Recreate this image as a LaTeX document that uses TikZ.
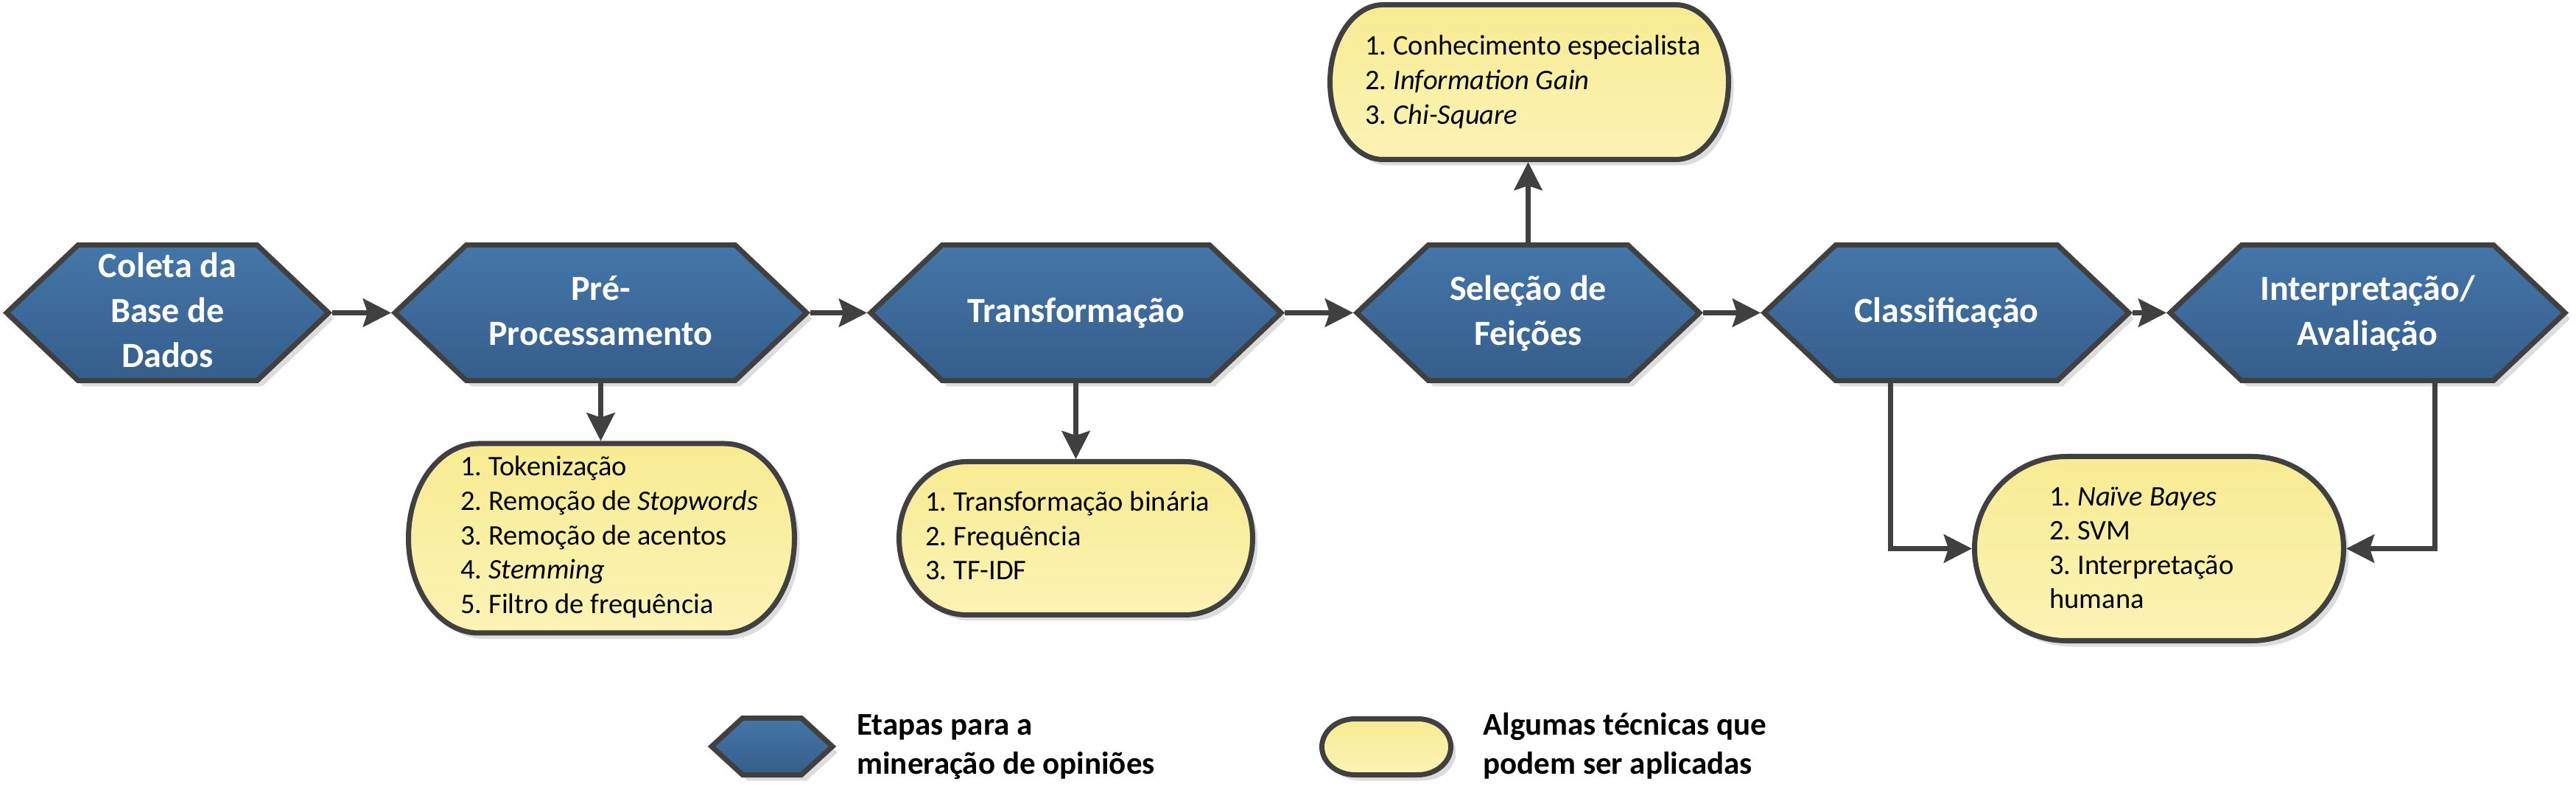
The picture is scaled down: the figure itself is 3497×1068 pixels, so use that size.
\documentclass[tikz,border=0pt]{standalone}
\usepackage{fontspec}
\setmainfont{Carlito}
\usetikzlibrary{arrows.meta}
\definecolor{hexTop}{HTML}{4476A9}
\definecolor{hexBot}{HTML}{355E8B}
\definecolor{edgec}{HTML}{404040}
\definecolor{yelTop}{HTML}{F8EB92}
\definecolor{yelBot}{HTML}{FBF3B5}
\definecolor{shadowc}{HTML}{DCDCDC}
\tikzset{
  hexshape/.style={draw=edgec, line width=3.5pt, top color=hexTop, bottom color=hexBot, line join=miter},
  techshape/.style={draw=edgec, line width=3.5pt, top color=yelTop, bottom color=yelBot},
  shadowshape/.style={fill=shadowc, draw=none},
  hextext/.style={text=white, font=\frenchspacing\bfseries\fontsize{24}{30.5}\selectfont, align=center, inner sep=0pt},
  techtext/.style={text=black, font=\frenchspacing\fontsize{19.25}{23.3}\selectfont, align=left, anchor=west, inner sep=0pt},
  legtext/.style={text=black, font=\frenchspacing\bfseries\fontsize{21.5}{26.5}\selectfont, align=left, anchor=west, inner sep=0pt},
  conn/.style={draw=edgec, line width=3.5pt, -{Stealth[length=19pt, width=19pt, inset=3pt]}},
}
% hexagon: #1 name, #2 left vertex x, #3 right vertex x, #4 top y, #5 bottom y, #6 slant
\newcommand\hexstep[6]{%
  \pgfmathsetmacro\hexmidy{(#4+#5)/2}%
  \pgfmathsetmacro\hexmidx{(#2+#3)/2}%
  \fill[shadowshape, shift={(7,8)}] (#2,\hexmidy) -- (#2+#6,#4) -- (#3-#6,#4) -- (#3,\hexmidy) -- (#3-#6,#5) -- (#2+#6,#5) -- cycle;
  \path[hexshape] (#2,\hexmidy) -- (#2+#6,#4) -- (#3-#6,#4) -- (#3,\hexmidy) -- (#3-#6,#5) -- (#2+#6,#5) -- cycle;
  \coordinate (#1-w) at (#2-5,\hexmidy);
  \coordinate (#1-e) at (#3+5,\hexmidy);
  \coordinate (#1-n) at (\hexmidx,#4-1.75);
  \coordinate (#1-s) at (\hexmidx,#5+1.75);
}
% stadium: #1 name, #2 x1, #3 y1, #4 x2, #5 y2, #6 rx
\def\stadpath{(\stadxl,\stadya) -- (\stadxr,\stadya) .. controls (\stadxr+\stadkx,\stadya) and (\stadxb,\stadmy-\stadky) .. (\stadxb,\stadmy) .. controls (\stadxb,\stadmy+\stadky) and (\stadxr+\stadkx,\stadyb) .. (\stadxr,\stadyb) -- (\stadxl,\stadyb) .. controls (\stadxl-\stadkx,\stadyb) and (\stadxa,\stadmy+\stadky) .. (\stadxa,\stadmy) .. controls (\stadxa,\stadmy-\stadky) and (\stadxl-\stadkx,\stadya) .. (\stadxl,\stadya) -- cycle}
\newcommand\stadium[6]{%
  \pgfmathsetmacro\stadxa{#2}%
  \pgfmathsetmacro\stadxb{#4}%
  \pgfmathsetmacro\stadya{#3}%
  \pgfmathsetmacro\stadyb{#5}%
  \pgfmathsetmacro\stadxl{#2+#6}%
  \pgfmathsetmacro\stadxr{#4-#6}%
  \pgfmathsetmacro\stadmy{(#3+#5)/2}%
  \pgfmathsetmacro\stadmx{(#2+#4)/2}%
  \pgfmathsetmacro\stadkx{0.5523*#6}%
  \pgfmathsetmacro\stadky{0.5523*(#5-#3)/2}%
  \fill[shadowshape, shift={(7,8)}] \stadpath;
  \path[techshape] \stadpath;
  \coordinate (#1-n) at (\stadmx,#3-3.5);
  \coordinate (#1-s) at (\stadmx,#5+3.5);
  \coordinate (#1-w) at (#2-3.5,\stadmy);
  \coordinate (#1-e) at (#4+3.5,\stadmy);
}
\begin{document}
\begin{tikzpicture}[x=0.5pt, y=-0.5pt]
\useasboundingbox (0,0) rectangle (3497,1068);

% process steps
\hexstep{h1}{9}{446}{332.5}{516.5}{97}
\hexstep{h2}{536}{1095}{332.5}{516.5}{97}
\hexstep{h3}{1182}{1739}{332.5}{516.5}{97}
\hexstep{h4}{1842}{2307}{332.5}{516.5}{97}
\hexstep{h5}{2395}{2890}{332.5}{516.5}{97}
\hexstep{h6}{2946}{3482}{332.5}{516.5}{97}

\node[hextext] (t1) at (227.5,425.5) {\strut Coleta da\\Base de\\Dados\strut};
\node[hextext] (t2) at (815.5,425.5) {\strut Pré-\\Processamento\strut};
\node[hextext] (t3) at (1460.5,425.5) {\strut Transformação\strut};
\node[hextext] (t4) at (2074.5,425.5) {\strut Seleção de\\Feições\strut};
\node[hextext] (t5) at (2642.5,425.5) {\strut Classificação\strut};
\node[hextext] (t6) at (3214,425.5) {\strut Interpretação/\\Avaliação\strut};

% technique boxes
\stadium{fs}{1805.5}{6.5}{2346.5}{216.5}{72}
\stadium{pp}{554.5}{602}{1078.5}{859}{95}
\stadium{tr}{1220.5}{626.5}{1700.5}{834.5}{92}
\stadium{cl}{2680.5}{619.5}{3181.5}{869.5}{125}

\node[techtext] (fs-t) at (1853,112.2) {\strut 1. Conhecimento especialista\\2. \textit{Information Gain}\\3. \textit{Chi-Square}\strut};
\node[techtext] (pp-t) at (625,729.7) {\strut 1. Tokenização\\2. Remoção de \textit{Stopwords}\\3. Remoção de acentos\\4. \textit{Stemming}\\5. Filtro de frequência\strut};
\node[techtext] (tr-t) at (1256,730.7) {\strut 1. Transformação binária\\2. Frequência\\3. TF-IDF\strut};
\node[techtext] (cl-t) at (2782,746.7) {\strut 1. \textit{Naïve Bayes}\\2. SVM\\3. Interpretação\\humana\strut};

% connectors
\draw[conn] (h1-e) -- (h2-w);
\draw[conn] (h2-e) -- (h3-w);
\draw[conn] (h3-e) -- (h4-w);
\draw[conn] (h4-e) -- (h5-w);
\draw[conn] (h5-e) -- (h6-w);
\draw[conn] (h2-s) -- (h2-s |- pp-n);
\draw[conn] (h3-s) -- (h3-s |- tr-n);
\draw[conn] (h4-n) -- (h4-n |- fs-s);
\coordinate (h5-d) at (2566,518.25);
\coordinate (h6-d) at (3305,518.25);
\draw[conn] (h5-d) |- (cl-w);
\draw[conn] (h6-d) |- (cl-e);

% legend
\hexstep{lh}{966}{1130}{974.5}{1051.5}{42}
\node[legtext] (lt1) at (1163,1013) {\strut Etapas para a\\mineração de opiniões\strut};
\stadium{ly}{1794.5}{975.5}{1969.5}{1051.5}{45}
\node[legtext] (lt2) at (2013,1013) {\strut Algumas técnicas que\\podem ser aplicadas\strut};
\end{tikzpicture}
\end{document}
